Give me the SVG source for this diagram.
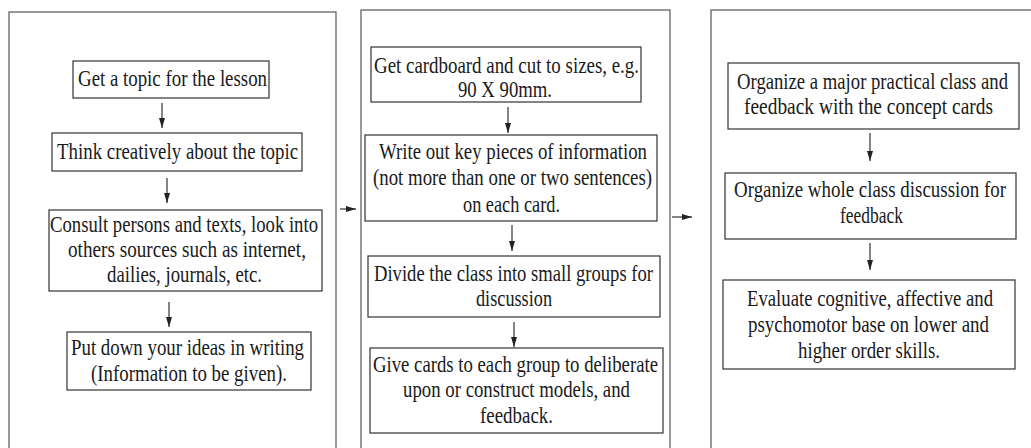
<svg xmlns="http://www.w3.org/2000/svg" width="1031" height="448" viewBox="0 0 1031 448">
<defs>
<style>
.panel{fill:none;stroke:#555;stroke-width:1.2}
.box{fill:#fff;stroke:#333;stroke-width:1.2}
.t{font-family:"Liberation Serif","Times New Roman",serif;font-size:22.5px;fill:#1a1a1a;text-anchor:middle}
.c{stroke:#222;stroke-width:1.1;fill:none;marker-end:url(#ah)}
</style>
<marker id="ah" markerUnits="userSpaceOnUse" markerWidth="10" markerHeight="8" refX="10" refY="4" orient="auto">
<path d="M0,1 L10,4 L0,7 Z" fill="#222"/>
</marker>
</defs>
<rect width="1031" height="448" fill="#fff"/>
<g id="panels">
<rect class="panel" x="9" y="12" width="327" height="450"/>
<rect class="panel" x="361" y="10" width="309" height="450"/>
<rect class="panel" x="711" y="10" width="330" height="450"/>
</g>
<g id="connectors">
<line class="c" x1="162" y1="103" x2="162" y2="128"/>
<line class="c" x1="167" y1="178" x2="167" y2="203"/>
<line class="c" x1="169" y1="302" x2="169" y2="327"/>
<line class="c" x1="508" y1="107" x2="508" y2="133"/>
<line class="c" x1="512" y1="225" x2="512" y2="251"/>
<line class="c" x1="514" y1="322" x2="514" y2="347"/>
<line class="c" x1="870" y1="133" x2="870" y2="161"/>
<line class="c" x1="870" y1="243" x2="870" y2="270"/>
<line class="c" x1="340" y1="209" x2="356" y2="209"/>
<line class="c" x1="672" y1="217" x2="692" y2="217"/>
</g>
<g id="n1">
<rect class="box" x="73" y="61" width="196" height="37"/>
<text class="t" transform="translate(172.5,86) scale(.83,1)" textLength="227.7" lengthAdjust="spacingAndGlyphs">Get a topic for the lesson</text>
</g>
<g id="n2">
<rect class="box" x="52" y="133" width="250" height="38"/>
<text class="t" transform="translate(177.5,159) scale(.83,1)" textLength="290.4" lengthAdjust="spacingAndGlyphs">Think creatively about the topic</text>
</g>
<g id="n3">
<rect class="box" x="49" y="210" width="273" height="81"/>
<text class="t" transform="translate(184,232) scale(.83,1)" textLength="322.9" lengthAdjust="spacingAndGlyphs">Consult persons and texts, look into</text>
<text class="t" transform="translate(187,257) scale(.83,1)" textLength="286.7" lengthAdjust="spacingAndGlyphs">others sources such as internet,</text>
<text class="t" transform="translate(184.5,282) scale(.83,1)" textLength="186.7" lengthAdjust="spacingAndGlyphs">dailies, journals, etc.</text>
</g>
<g id="n4">
<rect class="box" x="67" y="332" width="244" height="58"/>
<text class="t" transform="translate(187.5,355) scale(.83,1)" textLength="280.7" lengthAdjust="spacingAndGlyphs">Put down your ideas in writing</text>
<text class="t" transform="translate(189,381) scale(.83,1)" textLength="236.1" lengthAdjust="spacingAndGlyphs">(Information to be given).</text>
</g>
<g id="n5">
<rect class="box" x="371" y="47" width="270" height="55"/>
<text class="t" transform="translate(506.5,73) scale(.83,1)" textLength="319.3" lengthAdjust="spacingAndGlyphs">Get cardboard and cut to sizes, e.g.</text>
<text class="t" transform="translate(505,97) scale(.83,1)" textLength="113.3" lengthAdjust="spacingAndGlyphs">90 X 90mm.</text>
</g>
<g id="n6">
<rect class="box" x="365" y="135" width="292" height="86"/>
<text class="t" transform="translate(513,159) scale(.83,1)" textLength="322.9" lengthAdjust="spacingAndGlyphs">Write out key pieces of information</text>
<text class="t" transform="translate(512.5,185) scale(.83,1)" textLength="336.1" lengthAdjust="spacingAndGlyphs">(not more than one or two sentences)</text>
<text class="t" transform="translate(511.5,212) scale(.83,1)" textLength="116.9" lengthAdjust="spacingAndGlyphs">on each card.</text>
</g>
<g id="n7">
<rect class="box" x="368" y="256" width="292" height="61"/>
<text class="t" transform="translate(513.5,281) scale(.83,1)" textLength="336.1" lengthAdjust="spacingAndGlyphs">Divide the class into small groups for</text>
<text class="t" transform="translate(514,306) scale(.83,1)" textLength="91.6" lengthAdjust="spacingAndGlyphs">discussion</text>
</g>
<g id="n8">
<rect class="box" x="370" y="348" width="293" height="85"/>
<text class="t" transform="translate(515.5,372) scale(.83,1)" textLength="343.4" lengthAdjust="spacingAndGlyphs">Give cards to each group to deliberate</text>
<text class="t" transform="translate(516.5,397) scale(.83,1)" textLength="273.5" lengthAdjust="spacingAndGlyphs">upon or construct models, and</text>
<text class="t" transform="translate(516.5,423) scale(.83,1)" textLength="88" lengthAdjust="spacingAndGlyphs">feedback.</text>
</g>
<g id="n9">
<rect class="box" x="728" y="63" width="291" height="66"/>
<text class="t" transform="translate(872.5,89) scale(.83,1)" textLength="326.5" lengthAdjust="spacingAndGlyphs">Organize a major practical class and</text>
<text class="t" transform="translate(868.5,114) scale(.83,1)" textLength="300" lengthAdjust="spacingAndGlyphs">feedback with the concept cards</text>
</g>
<g id="n10">
<rect class="box" x="725" y="173" width="291" height="66"/>
<text class="t" transform="translate(870,197) scale(.83,1)" textLength="327.7" lengthAdjust="spacingAndGlyphs">Organize whole class discussion for</text>
<text class="t" transform="translate(871.5,223) scale(.83,1)" textLength="75.9" lengthAdjust="spacingAndGlyphs">feedback</text>
</g>
<g id="n11">
<rect class="box" x="723" y="280" width="292" height="89"/>
<text class="t" transform="translate(870,306) scale(.83,1)" textLength="296.4" lengthAdjust="spacingAndGlyphs">Evaluate cognitive, affective and</text>
<text class="t" transform="translate(868.5,332) scale(.83,1)" textLength="290.4" lengthAdjust="spacingAndGlyphs">psychomotor base on lower and</text>
<text class="t" transform="translate(869,358) scale(.83,1)" textLength="171.1" lengthAdjust="spacingAndGlyphs">higher order skills.</text>
</g>
</svg>
